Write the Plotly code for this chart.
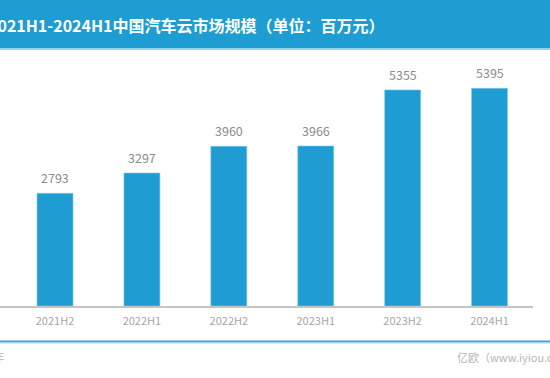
import plotly.graph_objects as go

categories = ["2021H2", "2022H1", "2022H2", "2023H1", "2023H2", "2024H1"]
values = [2793, 3297, 3960, 3966, 5355, 5395]
title_text = "2021H1-2024H1中国汽车云市场规模（单位：百万元）"
source_text = "2024年"
brand_text = "亿欧（www.iyiou.com）"

W, H = 550, 378
ml, mr, mt, mb = 0, 17, 60, 72
ph = H - mt - mb
pw = W - ml - mr


def py(ypix):
    return (H - mb - ypix) / ph


def px(xpix):
    return (xpix - ml) / pw


BAR = "#1f9dd2"
FONT = "Noto Sans CJK SC, Noto Sans, sans-serif"

fig = go.Figure()
fig.add_trace(go.Bar(
    x=categories, y=values, width=0.414,
    marker=dict(color=BAR, line=dict(color="#7fcbea", width=0.6)),
    hoverinfo="skip",
))

for c, v in zip(categories, values):
    fig.add_annotation(x=c, y=v, xref="x", yref="y", text=str(v), showarrow=False,
                       yanchor="bottom", yshift=4,
                       font=dict(size=12.5, color="#8c8c8c", family=FONT))

shapes = [
    dict(type="rect", xref="paper", yref="paper", x0=px(-20), x1=px(W + 20),
         y0=py(48), y1=py(-5), fillcolor="#1e9dd2", line=dict(width=0), layer="below"),
    dict(type="rect", xref="paper", yref="paper", x0=px(-20), x1=px(W + 20),
         y0=py(50), y1=py(48), fillcolor="#8fd3f0", line=dict(width=0), layer="below"),
    dict(type="rect", xref="paper", yref="paper", x0=px(-20), x1=px(W + 20),
         y0=py(342), y1=py(340.5), fillcolor="#3aa6d6", line=dict(width=0), layer="below"),
    dict(type="rect", xref="paper", yref="paper", x0=px(-20), x1=px(W + 20),
         y0=py(343.5), y1=py(342), fillcolor="#9fd8f0", line=dict(width=0), layer="below"),
]

fig.add_annotation(xref="paper", yref="paper", x=px(387), y=py(25), text=title_text,
                   showarrow=False, xanchor="right", yanchor="middle",
                   font=dict(size=16, color="white", family=FONT, weight="bold"))
fig.add_annotation(xref="paper", yref="paper", x=px(455), y=py(357), text=brand_text,
                   showarrow=False, xanchor="left", yanchor="middle",
                   font=dict(size=11, color="#b5b5b5", family=FONT))
fig.add_annotation(xref="paper", yref="paper", x=px(6), y=py(357), text=source_text,
                   showarrow=False, xanchor="right", yanchor="middle",
                   font=dict(size=11, color="#b5b5b5", family=FONT))

fig.update_layout(
    width=W, height=H,
    margin=dict(l=ml, r=mr, t=mt, b=mb, pad=0),
    paper_bgcolor="white", plot_bgcolor="white",
    showlegend=False, shapes=shapes,
    xaxis=dict(range=[-0.633, 5.5], showline=True, linecolor="#c4c4c4", linewidth=1.5,
               ticks="", showgrid=False, zeroline=False, ticklabelstandoff=4,
               tickfont=dict(size=11, color="#a6a6a6", family=FONT)),
    yaxis=dict(range=[0, 6097], visible=False, showgrid=False, zeroline=False),
)

fig.write_html("out.html", config={"displayModeBar": False},
               post_script="document.body.style.margin='0';document.body.style.overflow='hidden';")
